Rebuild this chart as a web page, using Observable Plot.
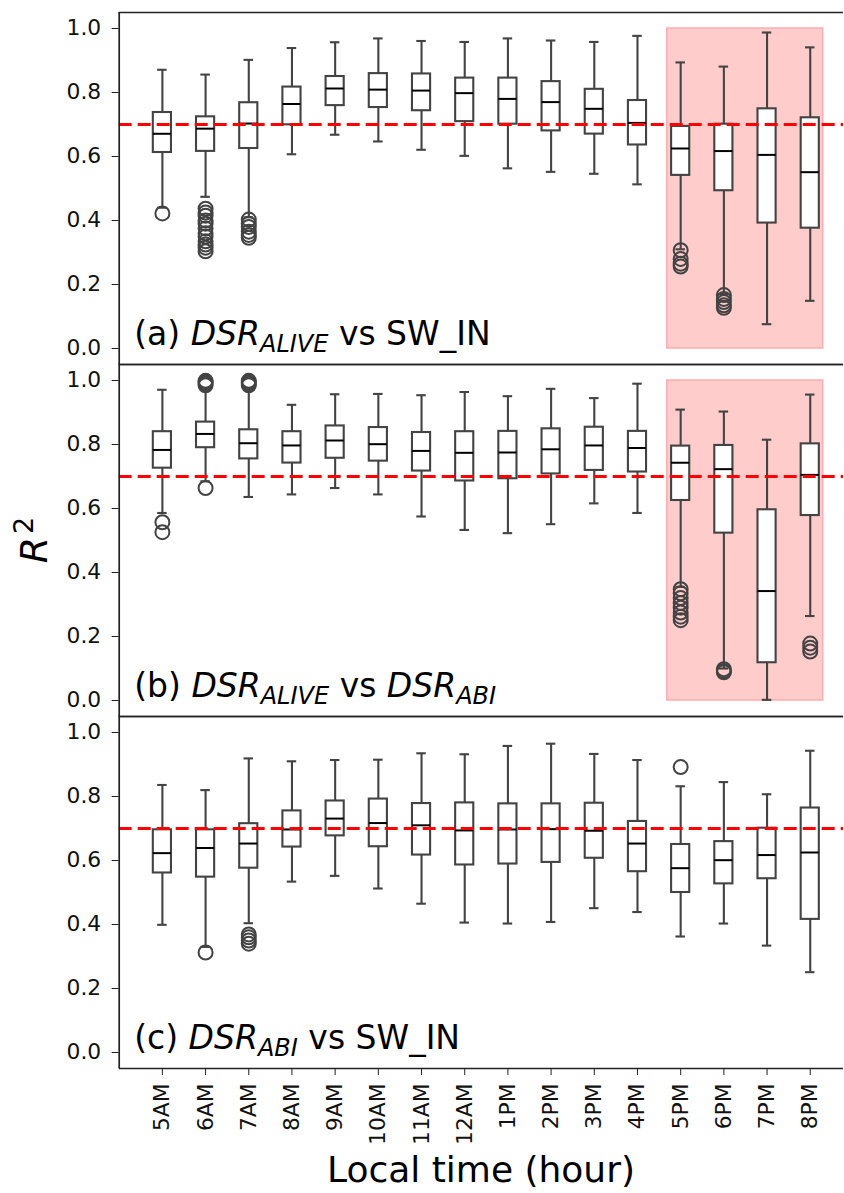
<!DOCTYPE html>
<html>
<head>
<meta charset="utf-8">
<script src="https://cdn.jsdelivr.net/npm/d3@7"></script>
<script src="https://cdn.jsdelivr.net/npm/@observablehq/plot@0.6"></script>
<style>
  html, body { margin: 0; padding: 0; background: #fff; }
  #chart svg { display: block; }
</style>
</head>
<body>
<div id="chart"></div>
<script>
// ---------------- DATA ----------------
const hours = ["5AM","6AM","7AM","8AM","9AM","10AM","11AM","12AM","1PM","2PM","3PM","4PM","5PM","6PM","7PM","8PM"];
const panels = ["a", "b", "c"];
const yTicks = [0.0, 0.2, 0.4, 0.6, 0.8, 1.0];
const threshold = 0.7;

// (a) DSR_ALIVE vs SW_IN
const aLow  = [0.44, 0.474, 0.41, 0.607, 0.668, 0.647, 0.621, 0.602, 0.563, 0.552, 0.546, 0.513, 0.31, 0.17, 0.076, 0.149];
const aQ1   = [0.6125, 0.616, 0.625, 0.699, 0.759, 0.753, 0.743, 0.709, 0.701, 0.680, 0.670, 0.636, 0.541, 0.493, 0.392, 0.376];
const aMed  = [0.671, 0.687, 0.703, 0.764, 0.8125, 0.809, 0.806, 0.798, 0.780, 0.770, 0.749, 0.705, 0.625, 0.617, 0.605, 0.551];
const aQ3   = [0.7375, 0.724, 0.768, 0.817, 0.850, 0.859, 0.858, 0.845, 0.845, 0.834, 0.810, 0.775, 0.694, 0.701, 0.749, 0.721];
const aHigh = [0.871, 0.856, 0.902, 0.939, 0.957, 0.969, 0.961, 0.958, 0.969, 0.9625, 0.958, 0.977, 0.894, 0.881, 0.9875, 0.941];
const aOutliers = [
  ["5AM", [0.422]],
  ["6AM", [0.437, 0.425, 0.415, 0.40, 0.39, 0.375, 0.36, 0.35, 0.335, 0.325, 0.315, 0.304]],
  ["7AM", [0.403, 0.39, 0.38, 0.365, 0.355, 0.346]],
  ["5PM", [0.307, 0.28, 0.265, 0.256]],
  ["6PM", [0.167, 0.155, 0.145, 0.135, 0.127]]
];

// (b) DSR_ALIVE vs DSR_ABI
const bLow  = [0.586, 0.685, 0.636, 0.644, 0.664, 0.644, 0.575, 0.533, 0.523, 0.551, 0.616, 0.586, 0.355, 0.10, 0.002, 0.264];
const bQ1   = [0.726, 0.790, 0.755, 0.742, 0.757, 0.748, 0.717, 0.686, 0.693, 0.708, 0.719, 0.714, 0.625, 0.523, 0.118, 0.578];
const bMed  = [0.783, 0.833, 0.804, 0.797, 0.8125, 0.801, 0.780, 0.774, 0.775, 0.785, 0.797, 0.789, 0.743, 0.723, 0.342, 0.705];
const bQ3   = [0.840, 0.870, 0.846, 0.840, 0.858, 0.853, 0.8375, 0.840, 0.841, 0.849, 0.854, 0.841, 0.795, 0.797, 0.596, 0.802];
const bHigh = [0.971, 0.975, 0.975, 0.924, 0.957, 0.958, 0.954, 0.964, 0.951, 0.974, 0.945, 0.990, 0.909, 0.903, 0.815, 0.956];
const bOutliers = [
  ["5AM", [0.557, 0.526]],
  ["6AM", [0.985, 0.99, 0.995, 0.999, 0.664]],
  ["7AM", [0.985, 0.99, 0.995, 0.999]],
  ["5PM", [0.348, 0.335, 0.32, 0.305, 0.29, 0.275, 0.262, 0.251]],
  ["6PM", [0.098, 0.092, 0.088]],
  ["8PM", [0.178, 0.165, 0.153]]
];

// (c) DSR_ABI vs SW_IN
const cLow  = [0.399, 0.33, 0.404, 0.534, 0.552, 0.5125, 0.465, 0.406, 0.403, 0.408, 0.451, 0.439, 0.3625, 0.403, 0.334, 0.251];
const cQ1   = [0.561, 0.548, 0.576, 0.642, 0.677, 0.643, 0.617, 0.586, 0.589, 0.594, 0.607, 0.565, 0.500, 0.527, 0.543, 0.416];
const cMed  = [0.623, 0.639, 0.653, 0.697, 0.731, 0.717, 0.710, 0.694, 0.697, 0.698, 0.693, 0.653, 0.576, 0.601, 0.617, 0.625];
const cQ3   = [0.696, 0.696, 0.715, 0.755, 0.786, 0.792, 0.778, 0.780, 0.777, 0.777, 0.779, 0.722, 0.650, 0.659, 0.701, 0.764];
const cHigh = [0.836, 0.820, 0.919, 0.910, 0.914, 0.915, 0.935, 0.932, 0.958, 0.965, 0.933, 0.914, 0.832, 0.845, 0.807, 0.943];
const cOutliers = [
  ["6AM", [0.3125]],
  ["7AM", [0.369, 0.36, 0.35, 0.34]],
  ["5PM", [0.892]]
];

// highlighted hours (panels a and b)
const shadedPanels = ["a", "b"];
const shadedHours = ["5PM", "8PM"];

// panel labels: [text, style]  i = italic, s = subscript
const labelA = [["(a) ", ""], ["DSR", "i"], ["ALIVE", "is"], [" vs SW_IN", ""]];
const labelB = [["(b) ", ""], ["DSR", "i"], ["ALIVE", "is"], [" vs ", ""], ["DSR", "i"], ["ABI", "is"]];
const labelC = [["(c) ", ""], ["DSR", "i"], ["ABI", "is"], [" vs SW_IN", ""]];

const xLabel = "Local time (hour)";

// ---------------- BUILD ----------------
function boxRows(panel, low, q1, med, q3, high) {
  return hours.map((h, i) => ({panel, x: i + 1, low: low[i], q1: q1[i], med: med[i], q3: q3[i], high: high[i]}));
}
function outlierRows(panel, outs) {
  return outs.flatMap(([h, vals]) => vals.map(v => ({panel, x: hours.indexOf(h) + 1, v})));
}
const boxes = [
  ...boxRows("a", aLow, aQ1, aMed, aQ3, aHigh),
  ...boxRows("b", bLow, bQ1, bMed, bQ3, bHigh),
  ...boxRows("c", cLow, cQ1, cMed, cQ3, cHigh)
];
const outliers = [
  ...outlierRows("a", aOutliers),
  ...outlierRows("b", bOutliers),
  ...outlierRows("c", cOutliers)
];
const shade = shadedPanels.map(panel => ({
  panel,
  x1: hours.indexOf(shadedHours[0]) + 1 - 0.31,
  x2: hours.indexOf(shadedHours[1]) + 1 + 0.30,
  y1: 0, y2: 1
}));
const labelSegs = [labelA, labelB, labelC];
const labels = panels.map((p, i) => ({panel: p, text: labelSegs[i].map(s => s[0]).join("")}));

const boxHalf = 0.21, capHalf = 0.11;
const lineColor = "#434343";
const frameColor = "#222";

const chart = Plot.plot({
  width: 844,
  height: 1193,
  marginLeft: 118.7,
  marginRight: 1,
  marginTop: 11.7,
  marginBottom: 125,
  style: {fontFamily: "DejaVu Sans", background: "white", color: "#111"},
  x: {domain: [0, 16.77], axis: null},
  y: {domain: [-0.05, 1.05], axis: null},
  fy: {domain: panels, padding: 0, axis: null},
  marks: [
    Plot.rect(shade, {x1: "x1", x2: "x2", y1: "y1", y2: "y2", fy: "panel", fill: "#ffcccc", stroke: "#ffadad", strokeWidth: 1.5}),
    Plot.ruleX(boxes, {x: "x", y1: "q3", y2: "high", fy: "panel", stroke: lineColor, strokeWidth: 2.1}),
    Plot.ruleX(boxes, {x: "x", y1: "low", y2: "q1", fy: "panel", stroke: lineColor, strokeWidth: 2.1}),
    Plot.ruleY(boxes, {y: "high", x1: d => d.x - capHalf, x2: d => d.x + capHalf, fy: "panel", stroke: lineColor, strokeWidth: 2.1}),
    Plot.ruleY(boxes, {y: "low", x1: d => d.x - capHalf, x2: d => d.x + capHalf, fy: "panel", stroke: lineColor, strokeWidth: 2.1}),
    Plot.rect(boxes, {x1: d => d.x - boxHalf, x2: d => d.x + boxHalf, y1: "q1", y2: "q3", fy: "panel", fill: "white", stroke: lineColor, strokeWidth: 2.1}),
    Plot.ruleY(boxes, {y: "med", x1: d => d.x - boxHalf, x2: d => d.x + boxHalf, fy: "panel", stroke: "black", strokeWidth: 2}),
    Plot.dot(outliers, {x: "x", y: "v", fy: "panel", r: 7, fill: "none", stroke: lineColor, strokeWidth: 2}),
    Plot.ruleY([threshold], {stroke: "red", strokeWidth: 3.2, strokeDasharray: "13,6"}),
    // frame (left, top, bottom)
    Plot.ruleX([0], {stroke: frameColor, strokeWidth: 1.7}),
    Plot.ruleY([-0.05, 1.05], {stroke: frameColor, strokeWidth: 1.7}),
    Plot.axisY({ticks: yTicks, tickFormat: d3.format(".1f"), tickSize: 7, tickPadding: 11, fontSize: 21.8, label: null, stroke: frameColor}),
    Plot.axisX({ticks: d3.range(1, hours.length + 1), tickFormat: i => hours[i - 1], tickRotate: -90, tickSize: 7, tickPadding: 8, fontSize: 21.8, label: null, stroke: frameColor}),
    Plot.text(labels, {fy: "panel", text: "text", frameAnchor: "bottom-left", dx: 15, dy: -20, lineAnchor: "bottom", textAnchor: "start", fontSize: 33, fill: "black"})
  ]
});

document.getElementById("chart").appendChild(chart);

// rich text for panel labels (italic + subscript)
d3.select(chart).selectAll("text").each(function() {
  const txt = this.textContent;
  const segs = labelSegs.find(s => s.map(d => d[0]).join("") === txt);
  if (!segs) return;
  const t = d3.select(this);
  t.selectAll("*").remove();
  t.text(null);
  let shift = 0;
  for (const [str, st] of segs) {
    const sp = t.append("tspan").text(str);
    if (st.includes("i")) sp.attr("font-style", "italic");
    const want = st.includes("s") ? 7 : 0;
    if (want !== shift) { sp.attr("dy", want - shift); shift = want; }
    if (st.includes("s")) sp.attr("font-size", 24);
  }
});

// y-axis label R^2
const yl = d3.select(chart).append("text")
  .attr("transform", "translate(47,540) rotate(-90)")
  .attr("text-anchor", "middle")
  .attr("font-family", "DejaVu Sans")
  .attr("font-size", 38)
  .attr("fill", "black");
yl.append("tspan").attr("font-style", "italic").text("R");
yl.append("tspan").attr("font-size", 27).attr("dx", 3).attr("dy", -14).text("2");

// x-axis label
d3.select(chart).append("text")
  .attr("x", 481).attr("y", 1182)
  .attr("text-anchor", "middle")
  .attr("font-family", "DejaVu Sans")
  .attr("font-size", 36)
  .attr("fill", "black")
  .text(xLabel);
</script>
</body>
</html>
